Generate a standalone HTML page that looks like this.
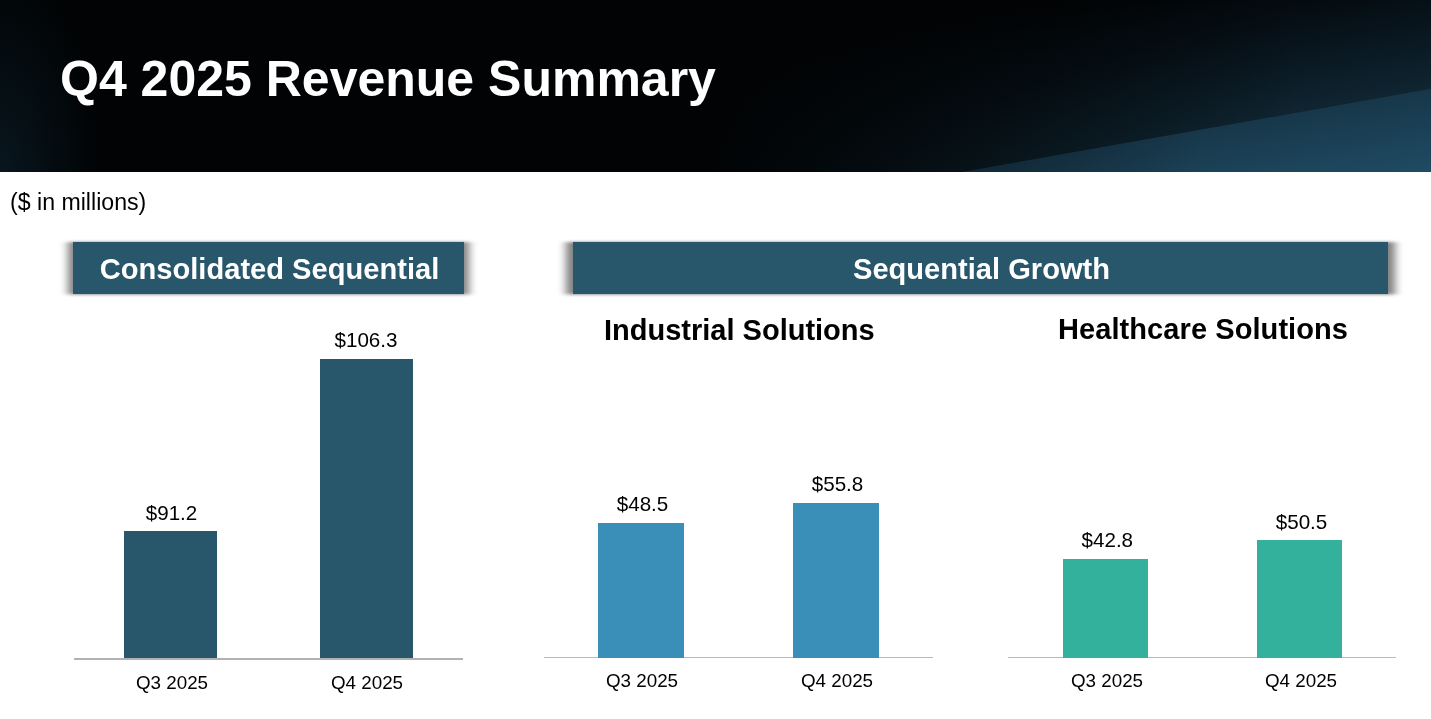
<!DOCTYPE html>
<html><head><meta charset="utf-8">
<style>
html,body{margin:0;padding:0;}
body{width:1431px;height:719px;position:relative;overflow:hidden;background:#fff;font-family:"Liberation Sans",Arial,sans-serif;color:#000;}
.abs{position:absolute;white-space:nowrap;}
#hdr{left:0;top:0;width:1431px;height:172px;background:#04070a;overflow:hidden;}
#title{left:60px;top:48.5px;font-size:50px;font-weight:bold;color:#fff;line-height:60px;}
#sub{left:10px;top:188.2px;font-size:23.15px;line-height:28px;}
.banner{box-sizing:border-box;padding-left:2px;background:#28566b;color:#fff;font-weight:bold;font-size:29.1px;text-align:center;}
#b1{left:73px;top:242px;width:391px;height:52px;line-height:54px;}
#b2{left:573px;top:242px;width:815px;height:52px;line-height:54px;}
.sh{position:absolute;background:rgba(0,0,0,.55);filter:blur(2.2px);}
.h{font-weight:bold;font-size:29px;line-height:34px;}
.bar{position:absolute;}
.c1{background:#28566b;}.c2{background:#3a8fb8;}.c3{background:#34b19c;}
.ax{position:absolute;height:1.5px;background:#b2b2b2;}
.lbl{font-size:18.8px;line-height:22px;text-align:center;width:120px;}
.val{font-size:20.6px;letter-spacing:0;line-height:22px;text-align:center;width:120px;}
</style></head><body>
<div id="hdr" class="abs">
<svg width="1431" height="172" style="position:absolute;left:0;top:0">
<defs>
<linearGradient id="g1" gradientUnits="userSpaceOnUse" x1="1405.3" y1="-59" x2="1431" y2="88.8"><stop offset="0" stop-color="#010304"/><stop offset="0.5" stop-color="#07121a"/><stop offset="1" stop-color="#0f2531"/></linearGradient>
<linearGradient id="g5" gradientUnits="userSpaceOnUse" x1="700" y1="0" x2="1300" y2="0"><stop offset="0" stop-color="#010304"/><stop offset="1" stop-color="#010304" stop-opacity="0"/></linearGradient>
<radialGradient id="g3" gradientUnits="userSpaceOnUse" cx="0" cy="172" r="200" gradientTransform="translate(0,172) scale(0.5,1.05) translate(0,-172)"><stop offset="0" stop-color="#08161e"/><stop offset="1" stop-color="#08161e" stop-opacity="0"/></radialGradient>
<linearGradient id="g2" gradientUnits="userSpaceOnUse" x1="1431" y1="88.8" x2="1445.2" y2="170.6"><stop offset="0" stop-color="#173749"/><stop offset="1" stop-color="#1f4b64"/></linearGradient>
<linearGradient id="g4" gradientUnits="userSpaceOnUse" x1="963" y1="0" x2="1200" y2="0"><stop offset="0" stop-color="#0a1a24" stop-opacity="0.55"/><stop offset="1" stop-color="#0a1a24" stop-opacity="0"/></linearGradient>
</defs>
<rect width="1431" height="172" fill="url(#g1)"/>
<rect width="1431" height="172" fill="url(#g5)"/>
<rect width="300" height="172" fill="url(#g3)"/>
<polygon points="963,172 1431,88.8 1431,172" fill="url(#g2)"/>
<polygon points="963,172 1431,88.8 1431,172" fill="url(#g4)"/>
</svg>
</div>
<div id="title" class="abs">Q4 2025 Revenue Summary</div>
<div id="sub" class="abs">($ in millions)</div>
<svg width="1431" height="120" style="position:absolute;left:0;top:200px">
<defs><filter id="bl" x="-5%" y="-50%" width="110%" height="200%"><feGaussianBlur stdDeviation="4 1.8"/></filter></defs>
<g filter="url(#bl)" fill="#000" fill-opacity="0.5">
<rect x="68" y="42" width="401" height="52.5"/>
<rect x="566" y="42" width="829" height="52.5"/>
</g>
</svg>
<div id="b1" class="abs banner">Consolidated Sequential</div>
<div id="b2" class="abs banner">Sequential Growth</div>
<div id="h1" class="abs h" style="left:604px;top:313px">Industrial Solutions</div>
<div id="h2" class="abs h" style="left:1058px;top:312px;letter-spacing:.08px">Healthcare Solutions</div>

<div class="bar c1" style="left:124px;top:531px;width:93px;height:128.6px"></div>
<div class="bar c1" style="left:320px;top:359px;width:93px;height:300.6px"></div>
<div class="ax" style="left:73.6px;top:658.2px;width:389.4px"></div>
<div id="v1" class="abs val" style="left:111.5px;top:502px">$91.2</div>
<div id="v2" class="abs val" style="left:306px;top:329px">$106.3</div>
<div id="l1" class="abs lbl" style="left:112px;top:672px">Q3 2025</div>
<div id="l2" class="abs lbl" style="left:307px;top:672px">Q4 2025</div>

<div class="bar c2" style="left:598px;top:523px;width:86px;height:134.9px;z-index:2"></div>
<div class="bar c2" style="left:793px;top:503px;width:86px;height:154.9px;z-index:2"></div>
<div class="ax" style="left:544px;top:656.5px;width:389px;height:1.3px;background:#b9b9b9"></div>
<div id="v3" class="abs val" style="left:582.5px;top:493px">$48.5</div>
<div id="v4" class="abs val" style="left:777.5px;top:473px">$55.8</div>
<div id="l3" class="abs lbl" style="left:582px;top:670px">Q3 2025</div>
<div id="l4" class="abs lbl" style="left:777px;top:670px">Q4 2025</div>

<div class="bar c3" style="left:1063px;top:559px;width:85px;height:98.9px;z-index:2"></div>
<div class="bar c3" style="left:1257px;top:540px;width:85px;height:117.9px;z-index:2"></div>
<div class="ax" style="left:1008px;top:656.5px;width:388px;height:1.3px;background:#b9b9b9"></div>
<div id="v5" class="abs val" style="left:1047.3px;top:529px">$42.8</div>
<div id="v6" class="abs val" style="left:1241.5px;top:511px">$50.5</div>
<div id="l5" class="abs lbl" style="left:1047px;top:670px">Q3 2025</div>
<div id="l6" class="abs lbl" style="left:1241px;top:670px">Q4 2025</div>
</body></html>
